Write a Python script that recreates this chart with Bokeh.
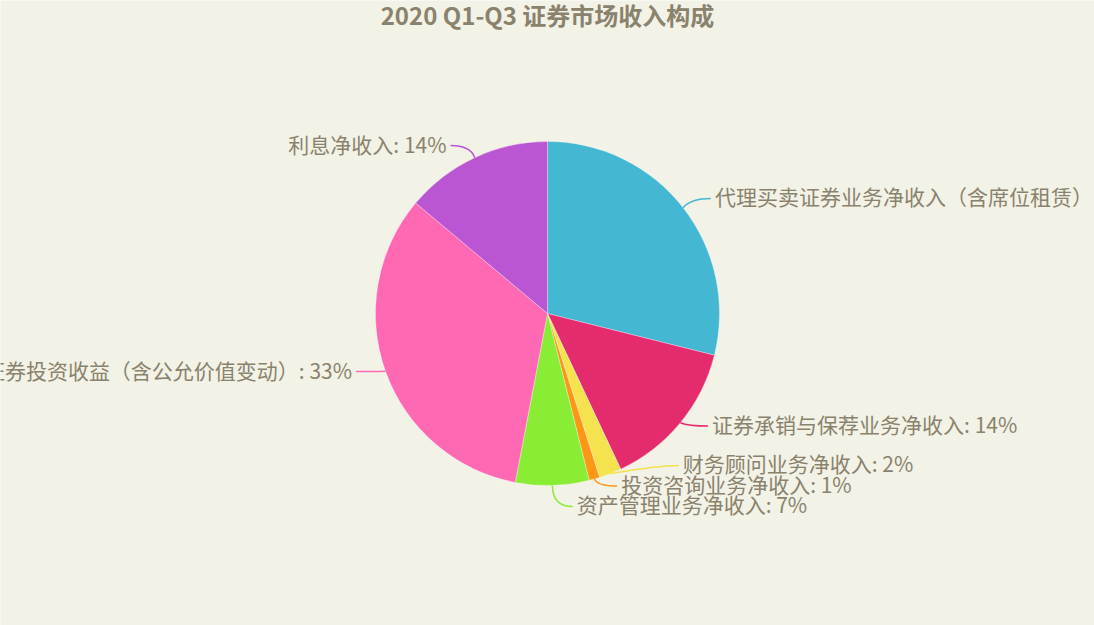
import numpy as np
from bokeh.plotting import figure
from bokeh.models import Range1d
from bokeh.core.properties import value
from bokeh.embed import file_html
from bokeh.resources import INLINE

title = "2020 Q1-Q3 证券市场收入构成"
names = ["代理买卖证券业务净收入（含席位租赁）", "证券承销与保荐业务净收入", "财务顾问业务净收入",
         "投资咨询业务净收入", "资产管理业务净收入", "证券投资收益（含公允价值变动）", "利息净收入"]
shares = [28.9, 14.1, 2.1, 1.0, 6.9, 33.1, 13.9]
colors = ["#44b7d3", "#e42b6d", "#f4e24e", "#fe9616", "#8aed35", "#ff69b4", "#ba55d3"]

BG = "#f2f2e6"
TXT = "#8a826d"
FONT = value("Noto Sans CJK SC")

# y axis is flipped so one unit = one screen px from the top-left corner
W, H = 1094, 625
cx, cy, r = 547, -313, 172
len1, len2 = 10, 20
line_h = 20.5

p = figure(width=W, height=H, x_range=Range1d(0, W), y_range=Range1d(-H, 0),
           output_backend="svg", toolbar_location=None, min_border=0)
p.axis.visible = False
p.grid.visible = False
p.outline_line_color = None
p.background_fill_color = BG
p.border_fill_color = BG

vals = np.array(shares)
frac = vals / vals.sum()
cum = np.concatenate([[0], np.cumsum(frac)])
start = np.pi / 2 - 2 * np.pi * cum[:-1]
end = np.pi / 2 - 2 * np.pi * cum[1:]

p.wedge(x=cx, y=cy, radius=r, start_angle=start, end_angle=end, direction="clock",
        fill_color=colors, line_color="white", line_width=0.6, line_alpha=0.5)

# label lines: edge -> elbow -> horizontal tail
mid = (start + end) / 2
ex = cx + r * np.cos(mid)
ey = cy + r * np.sin(mid)
bx = cx + (r + len1) * np.cos(mid)
by = cy + (r + len1) * np.sin(mid) + 3
side = np.where(np.cos(mid) >= 0, 1, -1)
ly = by.copy()


def place(g):
    m = np.mean([by[i] for i in g])
    n = len(g)
    return [m + line_h * ((n - 1) / 2 - k) for k in range(n)]


# push overlapping labels apart on each side
for s in (1, -1):
    idx = sorted([i for i in range(len(names)) if side[i] == s], key=lambda i: -by[i])
    groups = [[i] for i in idx]
    changed = True
    while changed:
        changed = False
        for k in range(len(groups) - 1):
            if place(groups[k])[-1] - place(groups[k + 1])[0] < line_h:
                groups[k] = groups[k] + groups[k + 1]
                del groups[k + 1]
                changed = True
                break
    for g in groups:
        for i, y in zip(g, place(g)):
            ly[i] = y

rA = r + len1
rB = rA + 10
kx = bx.copy()
for i in range(len(names)):
    if abs(ly[i] - by[i]) > 0.5:
        dy = abs(ly[i] - cy)
        if dy < rB:
            kx[i] = cx + side[i] * np.sqrt(1 - dy ** 2 / rB ** 2) * rA

tx = kx + side * len2
p.quadratic(x0=ex, y0=ey, x1=tx, y1=ly, cx=kx, cy=ly, line_color=colors, line_width=1.5)

labels = [f"{n}: {round(f * 100)}%" for n, f in zip(names, frac)]
for s, align in ((1, "left"), (-1, "right")):
    sel = [i for i in range(len(names)) if side[i] == s]
    p.text(x=[tx[i] + s * 4 for i in sel], y=[ly[i] + 2 for i in sel], text=[labels[i] for i in sel],
           text_align=align, text_baseline="middle", text_color=TXT,
           text_font=FONT, text_font_size="21px")

p.text(x=[cx], y=[-14], text=[title], text_align="center", text_baseline="middle",
       text_color=TXT, text_font=FONT, text_font_size="24px", text_font_style="bold")

open("out.html", "w").write(file_html(p, INLINE))
